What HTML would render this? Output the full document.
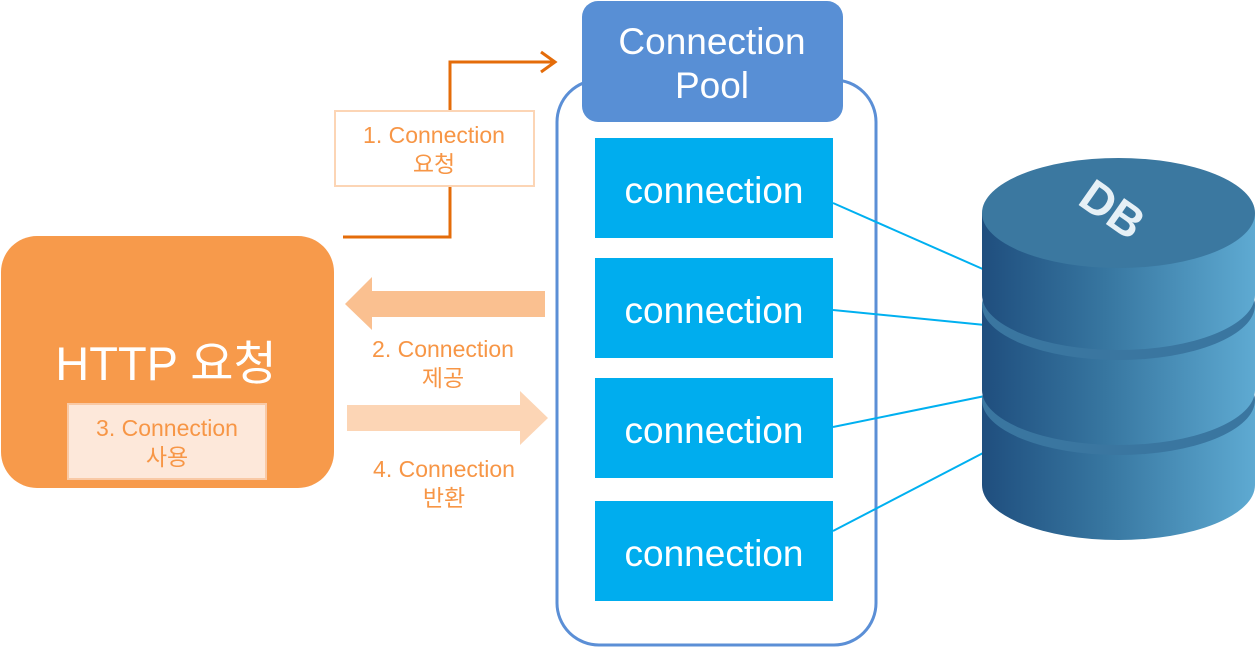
<!DOCTYPE html>
<html><head><meta charset="utf-8"><style>
html,body{margin:0;padding:0;background:#fff;}
svg text{font-family:"Liberation Sans","Noto Sans CJK KR",sans-serif;}
</style></head><body>
<svg width="1255" height="648" viewBox="0 0 1255 648" xmlns="http://www.w3.org/2000/svg">
<defs>
<linearGradient id="side" x1="0" x2="1" y1="0" y2="0">
<stop offset="0" stop-color="#1f4e7e"/><stop offset="0.45" stop-color="#3776a0"/><stop offset="1" stop-color="#5eaad2"/>
</linearGradient>
</defs>
<rect x="557" y="80" width="319" height="565" rx="42" fill="#fff" stroke="#5b8fd6" stroke-width="3"/>
<rect x="582" y="1" width="261" height="121" rx="16" fill="#588fd5"/>
<text x="712" y="54" font-size="37" fill="#fff" text-anchor="middle">Connection</text>
<text x="712" y="98" font-size="37" fill="#fff" text-anchor="middle">Pool</text>
<g fill="#00adee">
<rect x="595" y="138" width="238" height="100"/>
<rect x="595" y="258" width="238" height="100"/>
<rect x="595" y="378" width="238" height="100"/>
<rect x="595" y="501" width="238" height="100"/>
</g>
<g font-size="37" fill="#fff" text-anchor="middle">
<text x="714" y="203">connection</text>
<text x="714" y="323">connection</text>
<text x="714" y="443">connection</text>
<text x="714" y="566">connection</text>
</g>
<g stroke="#00b0f0" stroke-width="2">
<line x1="833" y1="203" x2="985" y2="270"/>
<line x1="833" y1="310" x2="985" y2="325"/>
<line x1="833" y1="427" x2="985" y2="396"/>
<line x1="833" y1="531" x2="985" y2="452"/>
</g>
<g>
<rect x="982" y="400" width="273" height="85" fill="url(#side)"/>
<ellipse cx="1118.5" cy="485" rx="136.5" ry="55" fill="url(#side)"/>
<ellipse cx="1118.5" cy="400" rx="136.5" ry="55" fill="#3a76a0"/>
<rect x="982" y="305" width="273" height="85" fill="url(#side)"/>
<ellipse cx="1118.5" cy="390" rx="136.5" ry="55" fill="url(#side)"/>
<ellipse cx="1118.5" cy="305" rx="136.5" ry="55" fill="#3a76a0"/>
<rect x="982" y="213" width="273" height="82" fill="url(#side)"/>
<ellipse cx="1118.5" cy="295" rx="136.5" ry="55" fill="url(#side)"/>
<ellipse cx="1118.5" cy="213" rx="136.5" ry="55" fill="#3b78a0"/>
<text x="1112" y="225" font-size="46" font-weight="bold" fill="#e6f0f6" text-anchor="middle" transform="rotate(35 1112 210)">DB</text>
</g>
<rect x="1" y="236" width="333" height="252" rx="36" fill="#f79a4b"/>
<text x="166" y="380" font-size="47" fill="#fff" text-anchor="middle">HTTP 요청</text>
<rect x="68" y="404" width="198" height="75" fill="#fde8da" stroke="#f9c9a5" stroke-width="2"/>
<text x="167" y="436" font-size="23" fill="#f79646" text-anchor="middle">3. Connection</text>
<text x="167" y="465" font-size="23" fill="#f79646" text-anchor="middle">사용</text>
<polyline points="343,237 450,237 450,62 553,62" fill="none" stroke="#e46c0a" stroke-width="3"/>
<polyline points="541,52 555,62 541,72" fill="none" stroke="#e46c0a" stroke-width="3"/>
<rect x="335" y="111" width="199" height="75" fill="#fff" stroke="#fcd5b5" stroke-width="2"/>
<text x="434" y="143" font-size="23" fill="#f79646" text-anchor="middle">1. Connection</text>
<text x="434" y="172" font-size="23" fill="#f79646" text-anchor="middle">요청</text>
<polygon points="545,291 372,291 372,277 345,304 372,330 372,317 545,317" fill="#fac090"/>
<polygon points="347,405 520,405 520,391 548,418 520,445 520,431 347,431" fill="#fcd5b5"/>
<text x="443" y="357" font-size="23" fill="#f79646" text-anchor="middle">2. Connection</text>
<text x="443" y="386" font-size="23" fill="#f79646" text-anchor="middle">제공</text>
<text x="444" y="477" font-size="23" fill="#f79646" text-anchor="middle">4. Connection</text>
<text x="444" y="506" font-size="23" fill="#f79646" text-anchor="middle">반환</text>
</svg>
</body></html>
